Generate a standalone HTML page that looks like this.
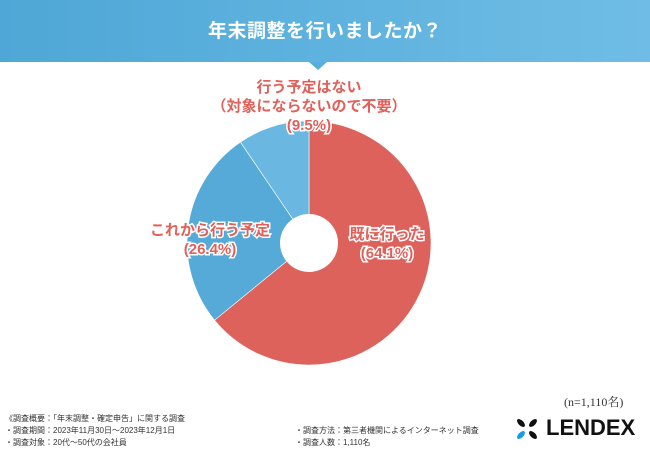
<!DOCTYPE html>
<html><head><meta charset="utf-8">
<style>
body{margin:0;width:650px;height:450px;background:#fff;position:relative;overflow:hidden;font-family:"Liberation Sans","Noto Sans CJK JP",sans-serif}
.hdr{position:absolute;left:0;top:0;width:650px;height:62px;background:linear-gradient(90deg,#4ea7d6,#6fbde6);color:#fff;font-size:19px;font-weight:bold;text-align:center;line-height:64px;letter-spacing:0.5px}
.tri{position:absolute;left:309px;top:62px;width:0;height:0;border-left:9px solid transparent;border-right:9px solid transparent;border-top:8px solid #58aedb}
.ft{position:absolute;font-size:8px;color:#333;line-height:12px}
</style></head><body>
<div class="hdr">年末調整を行いましたか？</div>
<div class="tri"></div>
<svg id="pie" width="650" height="450" style="position:absolute;left:0;top:0"></svg>
<div class="ft" style="left:564px;top:396px;font-size:12px;font-family:'Liberation Serif','Noto Serif CJK SC',serif">(n=1,110名)</div>
<div class="ft" style="left:5px;top:413px">《調査概要：「年末調整・確定申告」に関する調査<br>・調査期間：2023年11月30日～2023年12月1日<br>・調査対象：20代～50代の会社員</div>
<div class="ft" style="left:295px;top:425px">・調査方法：第三者機関によるインターネット調査<br>・調査人数：1,110名</div>
<svg width="26" height="26" style="position:absolute;left:514px;top:416px">
<g transform="translate(13,13)">
<ellipse cx="-6" cy="-6" rx="2.6" ry="5" transform="rotate(-45 -6 -6)" fill="#111"/>
<ellipse cx="6" cy="-6" rx="2.6" ry="5" transform="rotate(45 6 -6)" fill="#111"/>
<ellipse cx="6" cy="6" rx="2.6" ry="5" transform="rotate(-45 6 6)" fill="#111"/>
<ellipse cx="-6" cy="6" rx="2.6" ry="5" transform="rotate(45 -6 6)" fill="#1a9be0"/>
</g></svg>
<div style="position:absolute;left:546px;top:415px;font-size:22px;font-weight:bold;color:#111">LENDEX</div>
<script>
const categories=["既に行った","これから行う予定","行う予定はない（対象にならないので不要）"];
const values=[64.1,26.4,9.5];
const valueLabels=["(64.1%)","(26.4%)","(9.5%)"];
const colors=["#de625c","#55aad8","#6ab8e1"];
const svg=document.getElementById('pie');const NS="http://www.w3.org/2000/svg";
const cx=309,cy=243,R=122,r0=29;
const total=values.reduce((a,b)=>a+b,0);
function pt(a,rr){return [cx+rr*Math.sin(a),cy-rr*Math.cos(a)];}
let acc=0;
values.forEach((v,i)=>{
 const a0=acc/total*2*Math.PI;acc+=v;const a1=acc/total*2*Math.PI;
 const [x0,y0]=pt(a0,R),[x1,y1]=pt(a1,R);const big=(a1-a0)>Math.PI?1:0;
 const p=document.createElementNS(NS,'path');
 p.setAttribute('d',`M${cx},${cy}L${x0},${y0}A${R},${R} 0 ${big} 1 ${x1},${y1}Z`);
 p.setAttribute('fill',colors[i]);p.setAttribute('stroke','#fff');p.setAttribute('stroke-width','0.6');
 
 
 svg.appendChild(p);
});
const hole=document.createElementNS(NS,'circle');
hole.setAttribute('cx',cx);hole.setAttribute('cy',cy);hole.setAttribute('r',r0);hole.setAttribute('fill','#fff');


svg.appendChild(hole);
const labelLines=[["既に行った",valueLabels[0]],["これから行う予定",valueLabels[1]],["行う予定はない","（対象にならないので不要）",valueLabels[2]]];
const labelPos=[[387,239],[210,235],[309,92]];
labelLines.forEach((lines,i)=>{
 lines.forEach((t,j)=>{
  const tx=document.createElementNS(NS,'text');
  tx.setAttribute('x',labelPos[i][0]);tx.setAttribute('y',labelPos[i][1]+j*19);
  tx.setAttribute('text-anchor','middle');tx.setAttribute('font-size','15');tx.setAttribute('font-weight','bold');
  tx.setAttribute('fill','#e0605a');tx.setAttribute('stroke','#fff');tx.setAttribute('stroke-width','3');tx.setAttribute('paint-order','stroke');
  tx.setAttribute('font-family','"Liberation Sans","Noto Sans CJK JP",sans-serif');
  tx.textContent=t;
  
  
  svg.appendChild(tx);
 });
});
</script>
</body></html>
